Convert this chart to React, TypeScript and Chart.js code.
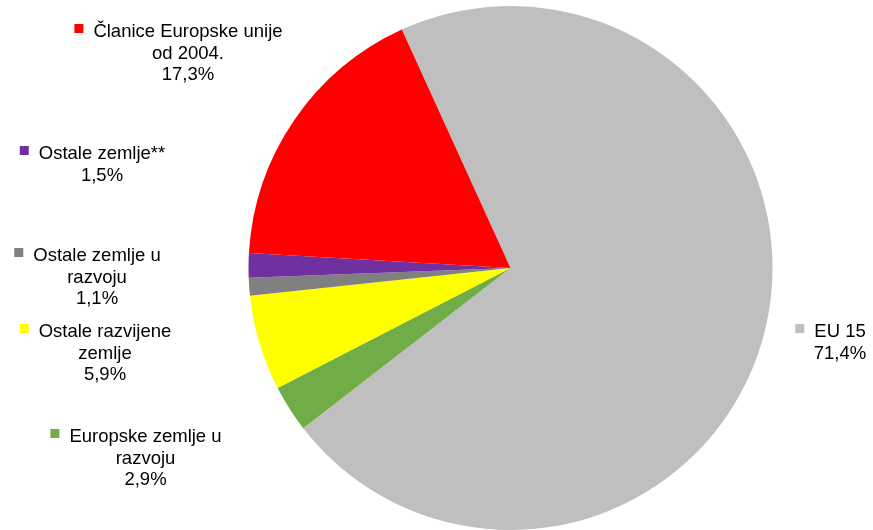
import React, { useEffect, useRef } from "react";
import { Chart, registerables } from "chart.js";

Chart.register(...registerables);

const categories = [
  "EU 15",
  "Europske zemlje u razvoju",
  "Ostale razvijene zemlje",
  "Ostale zemlje u razvoju",
  "Ostale zemlje**",
  "Članice Europske unije od 2004.",
];
const labelLines = [
  ["EU 15"],
  ["Europske zemlje u", "razvoju"],
  ["Ostale razvijene", "zemlje"],
  ["Ostale zemlje u", "razvoju"],
  ["Ostale zemlje**"],
  ["Članice Europske unije", "od 2004."],
];
const shares = [71.4, 2.9, 5.9, 1.1, 1.5, 17.3];
const colors = ["#BFBFBF", "#70AD47", "#FFFF00", "#808080", "#7030A0", "#FF0000"];
// label layout: centre x of the text block, baseline of its first line
const labelAnchors = [
  [840, 337],
  [145.5, 442],
  [105, 337],
  [97, 261],
  [102, 159],
  [188, 37],
];

const FONT = "18.5px 'Liberation Sans', Arial, sans-serif";
const LINE_H = 21.5;

const labelPlugin = {
  id: "pieLabels",
  afterDraw(chart: any) {
    const ctx = chart.ctx;
    ctx.save();
    ctx.font = FONT;
    ctx.textAlign = "center";
    ctx.textBaseline = "alphabetic";
    shares.forEach((v, i) => {
      const [cx, y] = labelAnchors[i];
      const lines = [...labelLines[i], v.toFixed(1).replace(".", ",") + "%"];
      ctx.fillStyle = "#000000";
      lines.forEach((ln, j) => ctx.fillText(ln, cx, y + j * LINE_H));
      const w = ctx.measureText(lines[0]).width;
      ctx.fillStyle = colors[i];
      ctx.fillRect(cx - w / 2 - 19, y - 13, 9, 9);
    });
    ctx.restore();
  },
};

export default function App() {
  const ref = useRef<HTMLCanvasElement>(null);
  useEffect(() => {
    const chart = new Chart(ref.current!, {
      type: "pie",
      data: {
        labels: categories,
        datasets: [
          {
            data: shares,
            backgroundColor: colors,
            borderWidth: 0,
          },
        ],
      },
      options: {
        responsive: false,
        animation: false,
        rotation: -24.5,
        layout: { padding: { left: 248, right: 100, top: 6, bottom: -1 } },
        plugins: {
          legend: { display: false },
          tooltip: { enabled: false },
        },
      },
      plugins: [labelPlugin],
    });
    return () => chart.destroy();
  }, []);
  return (
    <div style={{ position: "absolute", left: 0, top: 0, width: 873, height: 530, background: "#fff" }}>
      <canvas ref={ref} width={873} height={530} />
    </div>
  );
}
